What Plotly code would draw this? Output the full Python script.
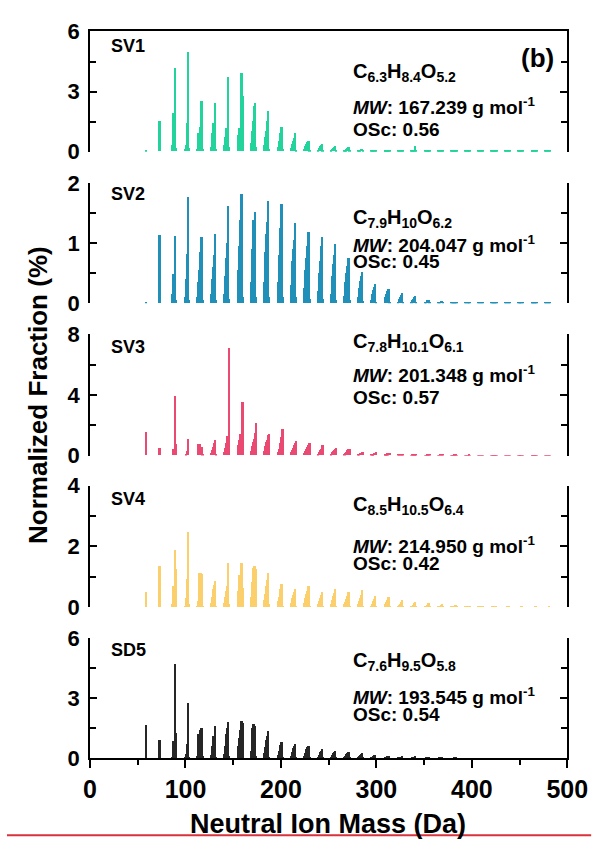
import plotly.graph_objects as go

# ---- data -------------------------------------------------------------
# Nominal cluster masses (Da); each cluster row lists the fraction (%) at
# mass offsets -4, -3, -2, -1, 0, +1 around the nominal mass.
cluster_mass = [59, 73, 89, 103, 117, 131, 145, 159, 173, 187, 201, 215, 229, 243,
                257, 271, 285, 299, 313, 327, 341, 355, 369, 383, 397, 411, 425,
                439, 453, 467, 481]
mass_offsets = [-4, -3, -2, -1, 0, 1]

sv1_frac = [
    [0, 0, 0, 0, 0.06, 0], [0, 0, 0, 0, 1.5, 0],
    [0, 0.3, 1.9, 1.9, 4.15, 0.15], [0, 0.1, 0.3, 1.4, 4.95, 0.15],
    [0.1, 0.9, 0.9, 1.2, 2.5, 0.1], [0.2, 0.9, 1.4, 1.4, 2.4, 0.1],
    [0.3, 0.7, 1.15, 1.15, 3.7, 0.2], [0.3, 0.8, 1.15, 1.15, 3.9, 2.75],
    [0.4, 1.0, 1.5, 2.25, 2.4, 0.2], [0.3, 0.7, 1.0, 1.5, 2.0, 0.1],
    [0.2, 0.5, 0.7, 0.9, 1.2, 0.1], [0.15, 0.35, 0.5, 0.65, 0.9, 0.05],
    [0.1, 0.25, 0.35, 0.45, 0.53, 0.05], [0.06, 0.15, 0.25, 0.3, 0.35, 0.03],
    [0.04, 0.1, 0.15, 0.2, 0.25, 0.02], [0.03, 0.07, 0.12, 0.15, 0.2, 0.02],
    [0.02, 0.05, 0.08, 0.1, 0.12, 0.02], [0.02, 0.04, 0.05, 0.06, 0.08, 0.02],
    [0.02, 0.03, 0.04, 0.05, 0.05, 0.02], [0.02, 0.03, 0.04, 0.04, 0.05, 0.02],
    [0.02, 0.03, 0.04, 0.05, 0.25, 0.02], [0.02, 0.02, 0.03, 0.03, 0.04, 0.02],
    [0.02, 0.02, 0.03, 0.03, 0.04, 0.02], [0.02, 0.02, 0.02, 0.03, 0.03, 0.02],
    [0.02, 0.02, 0.02, 0.03, 0.03, 0.02], [0.02, 0.02, 0.02, 0.02, 0.03, 0.02],
    [0.02, 0.02, 0.02, 0.02, 0.03, 0.02], [0.02, 0.02, 0.02, 0.02, 0.02, 0.02],
    [0.02, 0.02, 0.02, 0.02, 0.02, 0.02], [0.02, 0.02, 0.02, 0.02, 0.02, 0.02],
    [0.02, 0.02, 0.02, 0.02, 0.02, 0.02],
]

sv2_frac = [
    [0, 0, 0, 0, 0.01, 0], [0, 0, 0, 0, 1.14, 0],
    [0, 0.15, 0.48, 0.48, 1.12, 0.05], [0, 0.1, 0.4, 0.82, 1.77, 0.05],
    [0.1, 0.35, 0.55, 0.85, 1.1, 0.05], [0.15, 0.4, 0.6, 0.8, 1.16, 0.05],
    [0.15, 0.45, 0.75, 1.0, 1.62, 0.08], [0.2, 0.55, 0.95, 1.38, 1.82, 0.1],
    [0.35, 0.9, 1.38, 1.38, 1.52, 0.1], [0.35, 0.85, 1.15, 1.35, 1.7, 0.1],
    [0.35, 0.8, 1.05, 1.25, 1.65, 0.1], [0.3, 0.7, 0.9, 1.05, 1.33, 0.1],
    [0.25, 0.55, 0.75, 0.95, 1.18, 0.08], [0.2, 0.5, 0.7, 0.95, 1.1, 0.08],
    [0.15, 0.45, 0.65, 0.8, 0.98, 0.06], [0.12, 0.35, 0.5, 0.62, 0.75, 0.05],
    [0.1, 0.25, 0.38, 0.45, 0.52, 0.04], [0.06, 0.15, 0.22, 0.28, 0.33, 0.03],
    [0.05, 0.1, 0.16, 0.2, 0.24, 0.02], [0.03, 0.07, 0.11, 0.14, 0.17, 0.02],
    [0.02, 0.05, 0.08, 0.1, 0.12, 0.01], [0.01, 0.02, 0.04, 0.05, 0.05, 0.01],
    [0.01, 0.02, 0.03, 0.04, 0.04, 0.01], [0.01, 0.01, 0.02, 0.02, 0.02, 0.01],
    [0.01, 0.01, 0.01, 0.02, 0.02, 0.01], [0.01, 0.01, 0.01, 0.01, 0.01, 0.01],
    [0.01, 0.01, 0.01, 0.01, 0.01, 0.01], [0.01, 0.01, 0.01, 0.01, 0.01, 0.01],
    [0.01, 0.01, 0.01, 0.01, 0.01, 0.01], [0.01, 0.01, 0.01, 0.01, 0.01, 0.01],
    [0.01, 0.01, 0.01, 0.01, 0.01, 0.01],
]

sv3_frac = [
    [0, 0, 0, 0, 1.56, 0], [0, 0, 0, 0, 0.47, 0],
    [0, 0, 0.4, 0.4, 3.94, 0.75], [0, 0, 0.1, 0.3, 1.05, 0],
    [0, 0.75, 0.75, 0.55, 0.55, 0.05], [0.15, 0.35, 0.55, 0.8, 1.0, 0.05],
    [0.2, 0.5, 0.8, 1.3, 1.3, 7.1], [0.3, 0.7, 1.0, 1.4, 1.4, 3.5],
    [0.3, 0.6, 0.9, 1.1, 1.5, 2.1], [0.3, 0.6, 0.9, 1.0, 1.35, 1.43],
    [0.25, 0.45, 0.65, 0.8, 1.2, 1.75], [0.2, 0.35, 0.5, 0.65, 0.8, 0.96],
    [0.15, 0.3, 0.45, 0.55, 0.7, 0.81], [0.12, 0.25, 0.35, 0.45, 0.55, 0.65],
    [0.1, 0.2, 0.3, 0.38, 0.45, 0.5], [0.08, 0.15, 0.25, 0.32, 0.4, 0.45],
    [0.05, 0.1, 0.14, 0.18, 0.22, 0.25], [0.05, 0.08, 0.12, 0.15, 0.18, 0.2],
    [0.04, 0.06, 0.1, 0.13, 0.15, 0.18], [0.03, 0.05, 0.07, 0.09, 0.1, 0.1],
    [0.02, 0.03, 0.04, 0.05, 0.12, 0.05], [0.02, 0.02, 0.03, 0.04, 0.05, 0.03],
    [0.02, 0.02, 0.03, 0.04, 0.06, 0.03], [0.02, 0.02, 0.02, 0.03, 0.05, 0.02],
    [0.02, 0.02, 0.02, 0.02, 0.03, 0.02], [0.02, 0.02, 0.02, 0.02, 0.02, 0.02],
    [0.02, 0.02, 0.02, 0.02, 0.02, 0.02], [0.02, 0.02, 0.02, 0.02, 0.02, 0.02],
    [0.02, 0.02, 0.02, 0.02, 0.02, 0.02], [0.02, 0.02, 0.02, 0.02, 0.02, 0.02],
    [0.02, 0.02, 0.02, 0.02, 0.02, 0.02],
]

sv4_frac = [
    [0, 0, 0, 0, 0.49, 0], [0, 0, 0, 0, 1.37, 0],
    [0, 0.1, 0.7, 0.7, 1.88, 1.27], [0, 0.05, 0.3, 0.95, 2.47, 0.1],
    [0.05, 0.2, 1.14, 1.14, 1.1, 0.05], [0.15, 0.35, 0.6, 0.75, 0.87, 0.05],
    [0.15, 0.35, 0.55, 0.7, 1.45, 0.1], [0.25, 0.55, 1.05, 1.05, 1.47, 0.65],
    [0.35, 0.85, 1.3, 1.37, 1.37, 1.25], [0.25, 0.45, 0.7, 0.9, 1.14, 0.1],
    [0.2, 0.35, 0.5, 0.6, 0.76, 0.05], [0.15, 0.3, 0.42, 0.5, 0.61, 0.05],
    [0.15, 0.3, 0.45, 0.55, 0.69, 0.05], [0.12, 0.22, 0.32, 0.4, 0.49, 0.04],
    [0.12, 0.25, 0.38, 0.48, 0.62, 0.04], [0.1, 0.18, 0.28, 0.38, 0.49, 0.03],
    [0.1, 0.2, 0.32, 0.42, 0.58, 0.03], [0.06, 0.12, 0.2, 0.28, 0.38, 0.02],
    [0.06, 0.12, 0.18, 0.25, 0.35, 0.02], [0.04, 0.08, 0.12, 0.17, 0.25, 0.02],
    [0.03, 0.06, 0.09, 0.13, 0.18, 0.02], [0.02, 0.04, 0.06, 0.09, 0.13, 0.02],
    [0.02, 0.03, 0.05, 0.07, 0.1, 0.02], [0.02, 0.03, 0.04, 0.05, 0.08, 0.02],
    [0.02, 0.02, 0.03, 0.04, 0.06, 0.02], [0.02, 0.02, 0.02, 0.03, 0.05, 0.02],
    [0.01, 0.02, 0.02, 0.02, 0.03, 0.01], [0.01, 0.01, 0.02, 0.02, 0.03, 0.01],
    [0.01, 0.01, 0.01, 0.02, 0.02, 0.01], [0.01, 0.01, 0.01, 0.01, 0.02, 0.01],
    [0.01, 0.01, 0.01, 0.01, 0.02, 0.01],
]

sd5_frac = [
    [0, 0, 0, 0, 1.65, 0], [0, 0, 0, 0, 0.93, 0],
    [0, 0.05, 0.85, 0.85, 4.7, 1.25], [0, 0.05, 0.2, 0.7, 2.76, 0.05],
    [0.1, 1.2, 1.2, 1.4, 1.52, 0.1], [0.15, 0.6, 1.1, 1.1, 1.62, 0.05],
    [0.2, 0.6, 1.2, 1.5, 1.81, 0.1], [0.25, 0.6, 1.0, 1.4, 1.86, 1.75],
    [0.35, 1.5, 1.72, 1.72, 1.6, 0.1], [0.25, 0.55, 0.9, 1.1, 1.36, 0.05],
    [0.15, 0.35, 0.55, 0.68, 0.82, 0.05], [0.12, 0.3, 0.5, 0.6, 0.73, 0.04],
    [0.1, 0.25, 0.45, 0.55, 0.63, 0.04], [0.06, 0.18, 0.3, 0.38, 0.45, 0.03],
    [0.05, 0.15, 0.25, 0.32, 0.38, 0.03], [0.04, 0.12, 0.2, 0.25, 0.3, 0.02],
    [0.04, 0.1, 0.18, 0.22, 0.28, 0.02], [0.03, 0.06, 0.12, 0.15, 0.18, 0.01],
    [0.02, 0.05, 0.08, 0.1, 0.12, 0.01], [0.02, 0.04, 0.06, 0.08, 0.1, 0.01],
    [0.01, 0.02, 0.04, 0.05, 0.1, 0.01], [0.01, 0.02, 0.03, 0.03, 0.04, 0.01],
    [0.01, 0.02, 0.03, 0.04, 0.05, 0.01], [0.01, 0.01, 0.01, 0.02, 0.02, 0],
    [0, 0, 0, 0, 0, 0], [0, 0, 0, 0, 0, 0], [0, 0, 0, 0, 0, 0],
    [0, 0, 0, 0, 0, 0], [0, 0, 0, 0, 0, 0], [0, 0, 0, 0, 0, 0],
    [0, 0, 0, 0, 0, 0],
]

factor_names = ["SV1", "SV2", "SV3", "SV4", "SD5"]
formulas = ["C<sub>6.3</sub>H<sub>8.4</sub>O<sub>5.2</sub>",
            "C<sub>7.9</sub>H<sub>10</sub>O<sub>6.2</sub>",
            "C<sub>7.8</sub>H<sub>10.1</sub>O<sub>6.1</sub>",
            "C<sub>8.5</sub>H<sub>10.5</sub>O<sub>6.4</sub>",
            "C<sub>7.6</sub>H<sub>9.5</sub>O<sub>5.8</sub>"]
mol_weights = ["167.239", "204.047", "201.348", "214.950", "193.545"]
osc_values = ["0.56", "0.45", "0.57", "0.42", "0.54"]
y_max = [6, 2, 8, 4, 6]
x_ticks = [0, 100, 200, 300, 400, 500]

# ---- styling ----------------------------------------------------------
W, H = 616, 854
PLOT_LEFT, PLOT_RIGHT = 87, 587
panel_px = [(20, 144), (176, 300), (332, 457), (488, 613), (645, 769)]
colors = ["#22d49c", "#2190b8", "#ea4a72", "#fbcf6b", "#262626"]
BAR_WIDTH = 2.0
# pixel offsets of the text block (label, formula, MW, OSc) from each panel top
# (MW rows are anchored at their bottom so the superscript does not push them down)
text_rows = [(15, 42, 91, 101), (12, 37, 77, 81), (13, 8, 55, 65),
             (14, 20, 76, 80), (12, 24, 74, 79)]
FONT = "Liberation Sans, Arial, sans-serif"
INFO_SIZE = 19


def px_x(x):
    return x / W


def px_y(y):
    return 1 - y / H


def expand(rows):
    xs, ys = [], []
    for m, row in zip(cluster_mass, rows):
        for off, v in zip(mass_offsets, row):
            if v > 0:
                xs.append(m + off)
                ys.append(v)
    return xs, ys


series = [sv1_frac, sv2_frac, sv3_frac, sv4_frac, sd5_frac]

fig = go.Figure()
annotations = []
layout = dict(
    width=W, height=H, margin=dict(l=0, r=0, t=0, b=0),
    paper_bgcolor="white", plot_bgcolor="white", showlegend=False,
    bargap=0, font=dict(family=FONT, color="black"),
)

for i, rows in enumerate(series):
    n = i + 1
    xs, ys = expand(rows)
    fig.add_trace(go.Bar(
        x=xs, y=ys, width=BAR_WIDTH,
        marker=dict(color=colors[i], line=dict(width=0)),
        xaxis=f"x{n}" if n > 1 else "x", yaxis=f"y{n}" if n > 1 else "y",
        hoverinfo="x+y",
    ))
    top, bot = panel_px[i]
    ym = y_max[i]
    xa = dict(domain=[px_x(PLOT_LEFT), px_x(PLOT_RIGHT)], range=[0, 500],
              anchor=f"y{n}" if n > 1 else "y", showgrid=False, zeroline=False,
              fixedrange=True)
    if n == 5:
        xa.update(showline=True, linewidth=2, linecolor="black",
                  ticks="outside", ticklen=8, tickwidth=2, tickcolor="black",
                  tickmode="array", tickvals=x_ticks,
                  ticktext=[str(v) for v in x_ticks],
                  tickfont=dict(size=25, family=FONT, weight="bold"),
                  minor=dict(ticks="outside", ticklen=5, tickwidth=2,
                             tickcolor="black", tickmode="array",
                             tickvals=[50, 150, 250, 350, 450]))
    elif n == 1:
        # top border of the first panel
        xa.update(side="top", showline=True, linewidth=2, linecolor="black",
                  ticks="", showticklabels=False)
    else:
        xa.update(showline=False, ticks="", showticklabels=False)
    ya = dict(domain=[px_y(bot), px_y(top)], range=[0, ym],
              anchor=f"x{n}" if n > 1 else "x", showgrid=False, zeroline=False,
              showline=True, linewidth=2, linecolor="black", mirror="ticks",
              ticks="inside", ticklen=7, tickwidth=2, tickcolor="black",
              tickmode="array", tickvals=[0, ym / 2, ym],
              ticktext=[f"{v:g}" for v in (0, ym / 2, ym)],
              tickfont=dict(size=22, family=FONT, weight="bold"),
              ticklabelstandoff=4,
              minor=dict(ticks="inside", ticklen=6, tickwidth=2,
                         tickcolor="black", tickmode="array",
                         tickvals=[ym / 4, 3 * ym / 4]),
              fixedrange=True)
    layout["xaxis" if n == 1 else f"xaxis{n}"] = xa
    layout["yaxis" if n == 1 else f"yaxis{n}"] = ya

    r_lab, r_form, r_mw, r_osc = text_rows[i]
    annotations.append(dict(text=f"<b>{factor_names[i]}</b>", x=px_x(107),
                            y=px_y(top + r_lab), xref="paper", yref="paper",
                            xanchor="left", yanchor="middle", showarrow=False,
                            font=dict(size=18, family=FONT)))
    annotations.append(dict(text=f"<b>{formulas[i]}</b>", x=px_x(360),
                            y=px_y(top + r_form), xref="paper", yref="paper",
                            xanchor="left", yanchor="middle", showarrow=False,
                            font=dict(size=20, family=FONT)))
    annotations.append(dict(text=f"<b><i>MW</i>: {mol_weights[i]} g mol<sup>-1</sup></b>",
                            x=px_x(360), y=px_y(top + r_mw), xref="paper",
                            yref="paper", xanchor="left", yanchor="bottom",
                            showarrow=False, font=dict(size=INFO_SIZE, family=FONT)))
    annotations.append(dict(text=f"<b>OSc: {osc_values[i]}</b>", x=px_x(360),
                            y=px_y(top + r_osc), xref="paper", yref="paper",
                            xanchor="left", yanchor="middle", showarrow=False,
                            font=dict(size=INFO_SIZE, family=FONT)))

annotations.append(dict(text="<b>(b)</b>", x=px_x(556), y=px_y(47),
                        xref="paper", yref="paper", xanchor="center",
                        yanchor="middle", showarrow=False,
                        font=dict(size=26, family=FONT)))
annotations.append(dict(text="<b>Normalized Fraction (%)</b>", x=px_x(33),
                        y=px_y(395), xref="paper", yref="paper",
                        xanchor="center", yanchor="middle", textangle=-90,
                        showarrow=False, font=dict(size=26, family=FONT)))
annotations.append(dict(text="<b>Neutral Ion Mass (Da)</b>", x=px_x(336),
                        y=px_y(836), xref="paper", yref="paper",
                        xanchor="center", yanchor="middle", showarrow=False,
                        font=dict(size=27, family=FONT)))
layout["annotations"] = annotations
layout["shapes"] = [dict(type="line", xref="paper", yref="paper",
                         x0=0, x1=px_x(612), y0=px_y(848), y1=px_y(848),
                         line=dict(color="#d8323c", width=2))]

fig.update_layout(**layout)
fig.write_html("out.html")
